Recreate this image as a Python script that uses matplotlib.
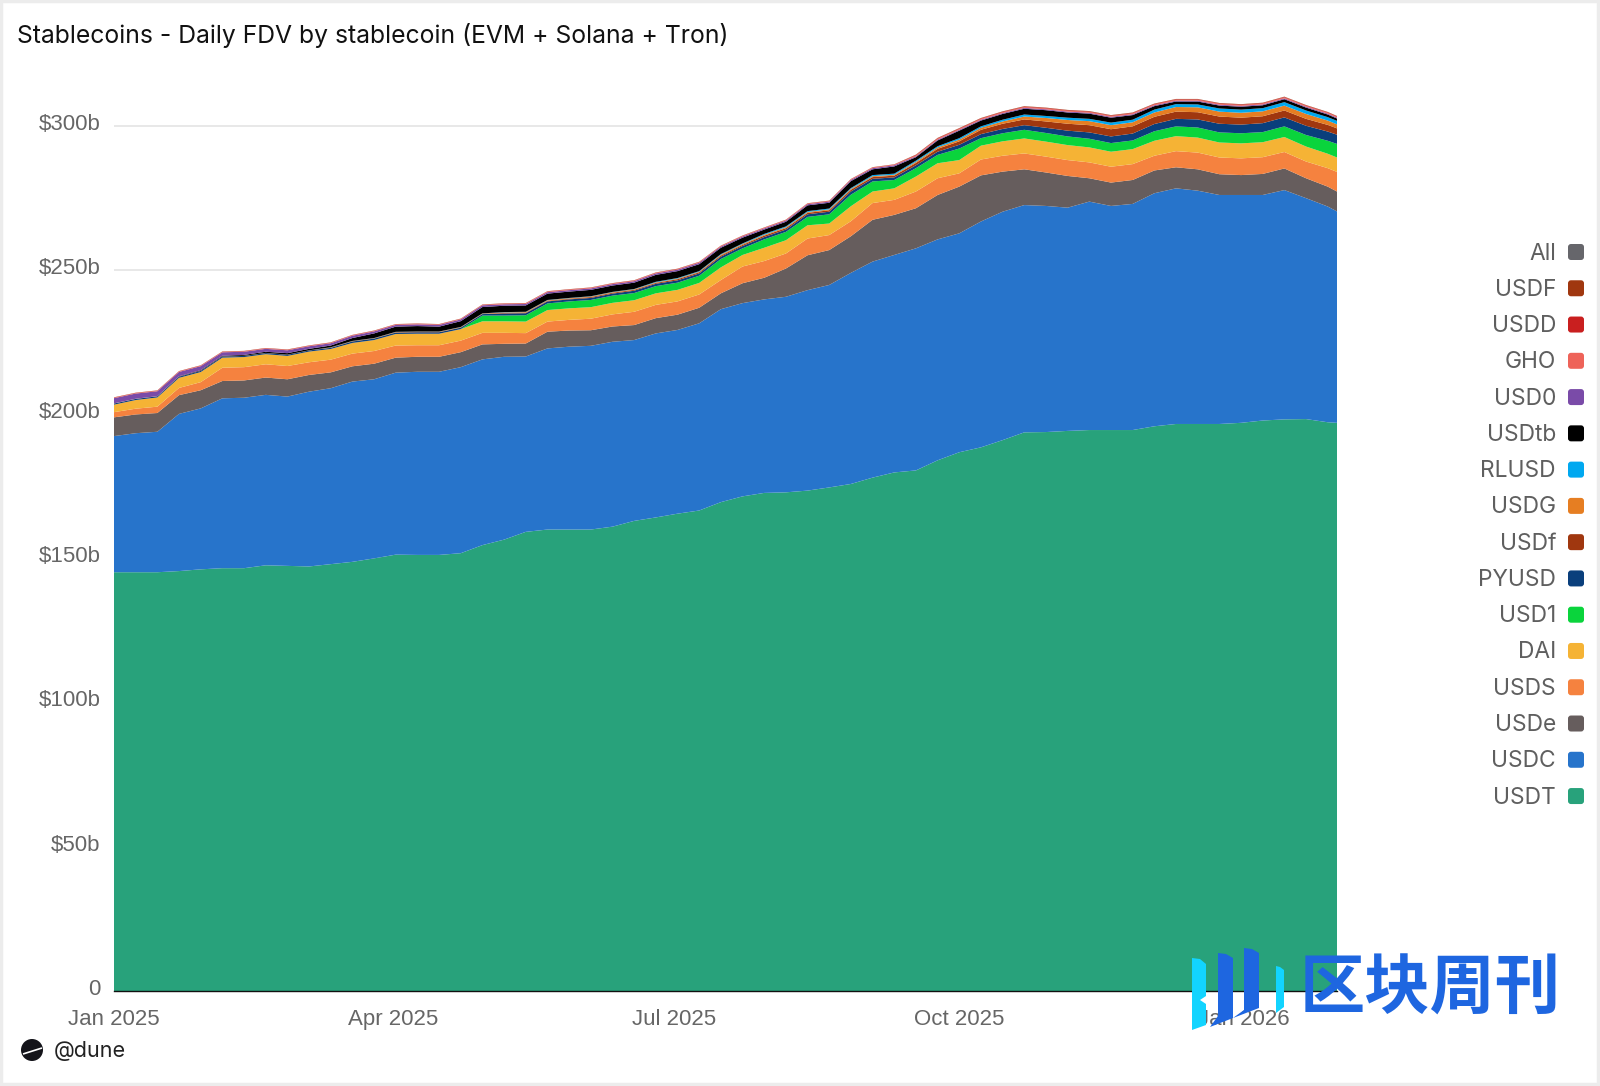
import datetime as dt
import matplotlib
matplotlib.use("Agg")
import matplotlib.pyplot as plt
from matplotlib.patches import Circle, FancyBboxPatch, Polygon, Rectangle
from matplotlib.transforms import ScaledTranslation

W, H = 1600, 1086
start = dt.date(2025, 1, 1)
day_offsets = [7 * k for k in range(57)] + [395]
dates = [start + dt.timedelta(days=d) for d in day_offsets]

USDT = [145.2,145.2,145.2,145.6,146.2,146.6,146.6,147.6,147.4,147.2,148,148.8,150,151.3,151.2,151.2,151.8,154.6,
        156.5,159.2,160,160,160,161,163,164.2,165.5,166.6,169.5,171.5,172.7,172.9,173.5,174.6,175.8,178,179.8,
        180.5,184,186.8,188.5,191,193.7,193.8,194.2,194.5,194.5,194.5,195.8,196.6,196.6,196.6,197,197.8,198.2,198.3,197.2,197]
USDC = [47.2,48.2,48.7,54.5,55.8,58.9,59.1,59.1,58.7,60.6,61,62.5,62.1,63.1,63.5,63.5,64.5,64.4,
        63.4,60.8,62.8,63.4,63.7,64.1,62.7,63.8,63.7,64.9,66.9,67,67.1,67.8,69.5,70.2,73.2,74.9,75.4,
        77,76.6,75.9,78.3,79.2,78.8,78.4,77.4,79.2,77.7,78.4,80.8,81.7,80.9,79.4,79,78.2,79.5,76.6,74.8,73.3]
USDe = [6.5,6.5,6.5,6.5,6.3,6,6,6,6,5.8,5.5,5.3,5.4,5.2,5.2,5.2,5.2,5.2,
        4.5,4.5,5.8,5.6,5.4,5.3,5.2,5.3,5.3,5.4,5.5,6.9,7.5,9.8,12.1,12.1,12.7,14.5,13.9,
        13.9,15.4,16.2,16,13.9,12.4,11.6,11,8.1,8.1,8.3,7.9,7.3,7.4,7.2,6.9,7.3,7.5,6.9,6.9,6.9]
USDS = [1.8,2,2.2,2.5,2.8,4.6,4.6,4.6,4.6,4.4,4.4,4.4,4.4,4.2,4,4,4,4,
        3.8,3.6,3.5,3.7,4,4.2,4.6,4.6,4.6,4.6,4.6,5.8,5.8,5.2,5.8,5.2,5.2,5.8,5.2,
        5.8,5.8,4.6,5.5,5.5,5.5,5.5,5.5,5.5,5.5,5.5,5.1,5.6,5.8,5.8,5.8,5.8,5.7,5.8,6.4,6.8]
DAI = [2.6,3,3.2,3.5,3.5,3.5,3.5,3.5,3.5,3.7,3.7,3.7,3.8,4,4,4,4,4,
       4,4,4,4,4,4,4,4,4,4,4.4,4,4.6,4.6,4.6,4,5.2,4,4,
       5.2,5.2,4.6,4.8,5,5.2,5.2,5.2,5.2,5.2,5.2,5.2,5.2,5.2,5.2,5.2,5.2,5.2,5.2,5,5]
USD1 = [0,0,0,0,0,0,0,0,0,0,0,0,0,0,0,0,0,2,
        2,2.2,2.3,2.4,2.5,2.5,2.5,2.5,2.5,2.5,2.9,2.3,2.9,2.9,2.9,3.2,4,3.5,2.9,
        2.9,2.9,4,2.6,2.8,3,3,3,3,3,3,3.3,3.4,3.5,3.5,3.5,3.5,3.7,4,4.5,4.7]
PYUSD = [.4,.4,.4,.4,.4,.4,.4,.4,.4,.4,.4,.5,.5,.5,.5,.5,.5,.5,
         .7,.7,.7,.7,.7,.7,.8,.8,.8,.8,.8,.8,.8,.8,.9,.9,1.1,.9,.9,
         1,1.1,1.3,1.4,1.5,1.6,1.8,2,2.2,2.3,2.4,2.5,2.6,2.8,3,3,3.1,3.1,3.2,3.2,3.2]
USDf = [0,0,0,0,0,0,0,0,0,0,.1,.1,.1,.1,.1,.1,.1,.1,
        .2,.2,.2,.2,.3,.3,.3,.3,.4,.4,.4,.4,.5,.5,.5,.5,.6,.6,.6,
        .8,1,1.2,1.5,1.8,2,2.2,2.4,2.5,2.5,2.5,2.5,2.5,2.5,2.5,2.4,2.4,2.4,2.4,2.3,2.2]
USDG = [.05,.05,.05,.05,.05,.05,.05,.05,.05,.05,.05,.05,.05,.1,.1,.1,.1,.1,
        .2,.2,.2,.2,.2,.2,.2,.2,.2,.2,.3,.3,.3,.3,.3,.3,.3,.3,.3,
        .4,.5,.6,.7,.8,1,1.2,1.3,1.4,1.4,1.4,1.5,1.6,1.7,1.7,1.7,1.7,1.7,1.7,1.5,1.4]
RLUSD = [0,0,0,0,0,0,0,0,0,0,.05,.05,.05,.05,.05,.05,.05,.05,
         .1,.1,.1,.1,.1,.1,.1,.2,.2,.2,.2,.2,.3,.3,.3,.3,.3,.4,.4,
         .4,.4,.5,.5,.6,.7,.7,.8,.8,.9,.9,1,1,1,1.1,1.1,1.1,1.2,1.2,1.2,1.2]
USDtb = [0,0,0,.1,.2,.2,.3,.4,.5,.5,.6,1,1.6,1.8,1.9,1.7,2,2.2,
         2.2,2.2,2.2,2.2,2.2,2.2,2.2,2.4,2.4,2.4,2.2,2,1.5,1.6,2,2,2.4,2,2.5,
         1.2,2,2.6,2,2,2,2,1.8,1.8,1.7,1.6,1.2,.9,1,1,1,1,1,1,.9,.8]
USD0 = [1.8,1.8,1.7,1.5,1.4,1.2,1.1,1,1,.9,.8,.8,.7,.6,.6,.6,.6,.6,
        .5,.5,.5,.5,.5,.5,.5,.5,.5,.5,.4,.4,.4,.4,.4,.4,.4,.4,.4,
        .3,.3,.3,.3,.3,.3,.3,.3,.3,.3,.3,.3,.3,.3,.3,.3,.3,.3,.3,.3,.3]
GHO = [.15] * 18 + [.2] * 19 + [.3] * 21
USDD = [.1] * 37 + [.2] * 21
USDF = [.05] * 37 + [.1] * 21
series_names = ["USDT","USDC","USDe","USDS","DAI","USD1","PYUSD","USDf","USDG","RLUSD","USDtb","USD0","GHO","USDD","USDF"]
series_values = [USDT,USDC,USDe,USDS,DAI,USD1,PYUSD,USDf,USDG,RLUSD,USDtb,USD0,GHO,USDD,USDF]
series_colors = ["#28a27b","#2774cb","#665d5d","#f5823f","#f5b335","#0ad43c","#0a3f7c","#a0370f","#e67e22",
                 "#00a8f0","#000000","#7a4ba8","#ee6359","#c91f1f","#a0370f"]
legend_names = ["All","USDF","USDD","GHO","USD0","USDtb","RLUSD","USDG","USDf","PYUSD","USD1","DAI","USDS","USDe","USDC","USDT"]
legend_colors = ["#66666b","#a0370f","#c91f1f","#ee6359","#7a4ba8","#000000","#00a8f0","#e67e22","#a0370f",
                 "#0a3f7c","#0ad43c","#f5b335","#f5823f","#665d5d","#2774cb","#28a27b"]
y_ticks = [0, 50, 100, 150, 200, 250, 300]
y_labels = ["0", "$50b", "$100b", "$150b", "$200b", "$250b", "$300b"]
x_ticks = [dt.date(2025,1,1), dt.date(2025,4,1), dt.date(2025,7,1), dt.date(2025,10,1), dt.date(2026,1,1)]
x_labels = ["Jan 2025", "Apr 2025", "Jul 2025", "Oct 2025", "Jan 2026"]

fig = plt.figure(figsize=(W/100, H/100), dpi=100, facecolor="white")
L, R, B, T = 114, 1337, 991, 82.5
ax = fig.add_axes([L/W, 1-B/H, (R-L)/W, (B-T)/H])
ax.stackplot(dates, *series_values, colors=series_colors, linewidth=0, zorder=3)
ax.set_xlim(start, dates[-1])
ax.set_ylim(0, 315)
ax.set_yticks(y_ticks, y_labels, fontfamily="Liberation Sans", fontsize=16, color="#666666")
ax.set_xticks(x_ticks, x_labels, fontfamily="Liberation Sans", fontsize=16, color="#666666")
ax.tick_params(length=0)
ax.tick_params(axis="y", pad=9.5)
ax.tick_params(axis="x", pad=13)
off = ScaledTranslation(0, 3/72, fig.dpi_scale_trans)
for t in ax.get_yticklabels():
    t.set_transform(t.get_transform() + off)
ax.grid(axis="y", color="#e6e6e6", lw=1.3, zorder=1)
ax.set_axisbelow(True)
for s in ["left", "right", "top"]:
    ax.spines[s].set_visible(False)
ax.spines["bottom"].set_color("#111111")
ax.spines["bottom"].set_linewidth(1.0)
ax.spines["bottom"].set_zorder(5)

ov = fig.add_axes([0, 0, 1, 1], facecolor="none")
ov.set_xlim(0, W); ov.set_ylim(H, 0); ov.axis("off")
ov.add_patch(Rectangle((1, 1), W-3, H-3, fill=False, ec="#ececec", lw=2.5))
ov.text(17, 36, "Stablecoins - Daily FDV by stablecoin (EVM + Solana + Tron)", fontfamily="Inter",
        fontsize=17.8, color="#111111", va="center", ha="left")

for i, (n, c) in enumerate(zip(legend_names, legend_colors)):
    y = 252 + i * 36.27
    ov.text(1556, y + 1.5, n, fontfamily="Inter", fontsize=16.4, color="#5f5f5f", ha="right", va="center")
    ov.add_patch(FancyBboxPatch((1570, y-6), 12, 12, boxstyle="round,pad=2,rounding_size=3", fc=c, ec="none"))

ov.add_patch(Circle((32, 1050), 11, fc="#14141a", ec="none"))
ov.plot([23, 42], [1054, 1048], color="white", lw=1.2, solid_capstyle="butt")
ov.text(54, 1051, "@dune", fontfamily="Inter", fontsize=15.5, color="#222222", ha="left", va="center")

CYAN, BLUE = "#12d4ff", "#1e66e0"
ov.add_patch(Polygon([(1192,958),(1200,959),(1206,964),(1206,996),(1200,1000),(1206,1004),(1206,1025),(1192,1030)], fc=CYAN, ec="none"))
ov.add_patch(Polygon([(1218,953),(1226,954),(1233,958),(1233,1018),(1210,1027),(1218,1016)], fc=BLUE, ec="none"))
ov.add_patch(Polygon([(1244,948),(1252,949),(1259,953),(1259,1008),(1233,1018),(1244,1010)], fc=BLUE, ec="none"))
ov.add_patch(Polygon([(1276,966),(1280,967),(1284,970),(1284,1007),(1276,1013)], fc=CYAN, ec="none"))
ov.text(1430, 989, "区块周刊", fontfamily="Noto Sans CJK SC", fontweight="bold", fontsize=47, color=BLUE,
        ha="center", va="center")

fig.savefig("out.png", dpi=100)
